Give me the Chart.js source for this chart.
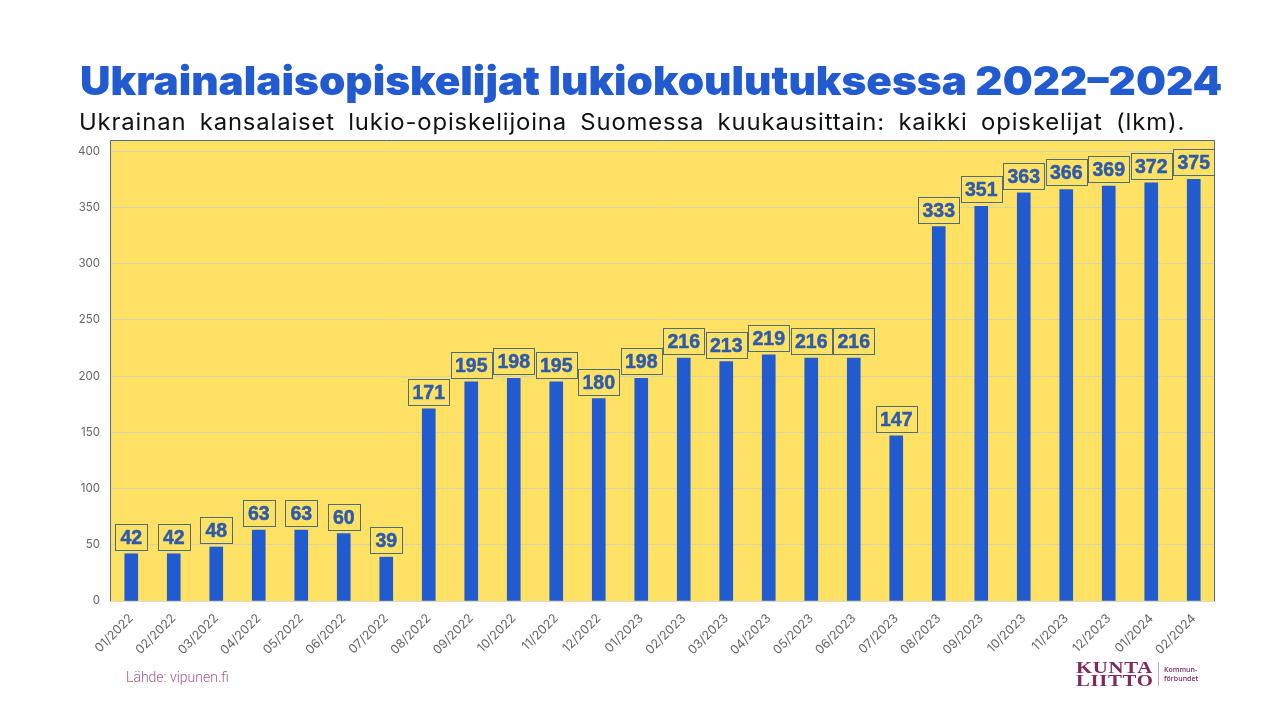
<!DOCTYPE html>
<html lang="fi">
<head>
<meta charset="utf-8">
<title>Ukrainalaisopiskelijat lukiokoulutuksessa 2022–2024</title>
<script src="https://cdn.jsdelivr.net/npm/chart.js@4"></script>
<style>
  html, body { margin: 0; padding: 0; background: #fff; }
  #kehys { position: relative; width: 1280px; height: 720px; overflow: hidden; }
  #kaavio { position: absolute; left: 0; top: 0; }
  .teksti { position: absolute; white-space: nowrap; transform-origin: left center; }
  #otsikko { left: 80px; top: 54px; font: 900 40px/54px Inter, sans-serif; color: #225bd0; transform: scaleX(1.057); }
  #alaotsikko { left: 79px; top: 107px; font: 400 22.5px/30px Inter, sans-serif; color: #111; letter-spacing: .8px; word-spacing: 5.5px; transform: scaleX(1.06); }
  #lahde { left: 126px; top: 668px; font: 300 14px/18px Roboto, sans-serif; color: #a8578f; }
  #logo1 { left: 1076px; top: 662px; font: 700 16px/12.5px "Liberation Serif", serif; color: #7c2a5f; letter-spacing: .5px; transform: scaleX(1.3); }
  #logo2 { left: 1164px; top: 666px; font: 600 7px/8.5px "Open Sans", sans-serif; color: #7c2a5f; }
  #viiva { position: absolute; left: 1158px; top: 662px; width: 1px; height: 24px; background: #c9a3bb; }
</style>
</head>
<body>
<div id="kehys">
  <canvas id="kaavio" width="1280" height="720"></canvas>
  <div class="teksti" id="otsikko">Ukrainalaisopiskelijat lukiokoulutuksessa 2022–2024</div>
  <div class="teksti" id="alaotsikko">Ukrainan kansalaiset lukio-opiskelijoina Suomessa kuukausittain: kaikki opiskelijat (lkm).</div>
  <div class="teksti" id="lahde">Lähde: vipunen.fi</div>
  <div class="teksti" id="logo1">KUNTA<br>LIITTO</div>
  <div id="viiva"></div>
  <div class="teksti" id="logo2">Kommun-<br>förbundet</div>
</div>
<script>
// Kuukaudet ja opiskelijamäärät
const kuukaudet = [
  "01/2022", "02/2022", "03/2022", "04/2022", "05/2022", "06/2022", "07/2022", "08/2022", "09/2022",
  "10/2022", "11/2022", "12/2022", "01/2023", "02/2023", "03/2023", "04/2023", "05/2023", "06/2023",
  "07/2023", "08/2023", "09/2023", "10/2023", "11/2023", "12/2023", "01/2024", "02/2024"
];
const opiskelijat = [42, 42, 48, 63, 63, 60, 39, 171, 195, 198, 195, 180, 198, 216, 213, 219, 216, 216, 147, 333, 351, 363, 366, 369, 372, 375];

// Keltainen tausta ja kehys piirtoalueelle
const tausta = {
  id: "tausta",
  beforeDraw(chart) {
    const { ctx, chartArea: a } = chart;
    ctx.save();
    ctx.fillStyle = "#ffe263";
    ctx.fillRect(a.left, a.top, a.width, a.height);
    ctx.restore();
  },
  afterDraw(chart) {
    const { ctx, chartArea: a } = chart;
    ctx.save();
    ctx.strokeStyle = "#4f6b80";
    ctx.lineWidth = 1;
    ctx.beginPath();
    ctx.moveTo(a.left + 0.5, a.bottom);
    ctx.lineTo(a.left + 0.5, a.top + 0.5);
    ctx.lineTo(a.right - 0.5, a.top + 0.5);
    ctx.lineTo(a.right - 0.5, a.bottom);
    ctx.stroke();
    ctx.restore();
  }
};

// Arvolaatikot pylväiden päälle
const arvot = {
  id: "arvot",
  afterDatasetsDraw(chart) {
    const { ctx } = chart;
    const pylvaat = chart.getDatasetMeta(0).data;
    ctx.save();
    ctx.font = "bold 19.5px 'Liberation Sans', sans-serif";
    ctx.textAlign = "center";
    ctx.textBaseline = "middle";
    pylvaat.forEach((p, i) => {
      const teksti = String(opiskelijat[i]);
      const lev = teksti.length > 2 ? 41 : 32;
      const x = Math.round(p.x - lev / 2) + 0.5;
      const y = Math.round(p.y) - 29.5;
      ctx.fillStyle = "#ffe263";
      ctx.fillRect(x, y, lev, 26);
      ctx.strokeStyle = "#4f6b80";
      ctx.lineWidth = 1;
      ctx.strokeRect(x, y, lev, 26);
      ctx.fillStyle = "#2e5bab";
      ctx.strokeStyle = "#2e5bab";
      ctx.lineWidth = 0.5;
      ctx.fillText(teksti, p.x, y + 14);
      ctx.strokeText(teksti, p.x, y + 14);
    });
    ctx.restore();
  }
};

new Chart(document.getElementById("kaavio"), {
  type: "bar",
  data: {
    labels: kuukaudet,
    datasets: [{
      data: opiskelijat,
      backgroundColor: "#225bd0",
      barThickness: 13
    }]
  },
  options: {
    responsive: false,
    animation: false,
    layout: { padding: { left: 0, right: 65, top: 140, bottom: 0 } },
    plugins: { legend: { display: false }, title: { display: false }, tooltip: { enabled: false } },
    scales: {
      x: {
        afterFit: s => { s.height = 119; },
        grid: { display: false, drawTicks: false },
        border: { color: "#d9d9d9" },
        ticks: { maxRotation: 45, minRotation: 45, autoSkip: false, padding: 10, color: "#666", font: { family: "Inter, sans-serif", size: 12.5 } }
      },
      y: {
        min: 0,
        max: 410,
        afterFit: s => { s.width = 110; },
        grid: { color: "#d8d4a8", drawTicks: false },
        border: { display: false },
        ticks: { stepSize: 50, includeBounds: false, padding: 10, color: "#666", font: { family: "Inter, sans-serif", size: 11.5 } }
      }
    }
  },
  plugins: [tausta, arvot]
});
</script>
</body>
</html>
